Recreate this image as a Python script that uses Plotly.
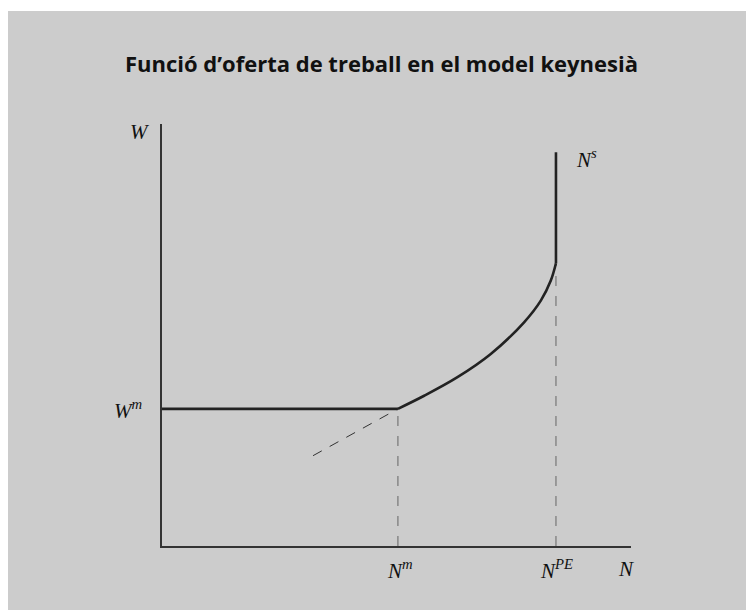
import plotly.graph_objects as go

# Data (axis units 0-100)
N_m = 50.3
N_PE = 84.0
W_m = 32.5
W_top = 93.3

flat_N = [0, N_m]
flat_W = [W_m, W_m]
curve_N = [50.3, 55.9, 63.0, 70.1, 77.2, 80.8, 82.9, 84.0]
curve_W = [32.5, 35.6, 40.0, 45.5, 53.0, 58.2, 62.9, 67.0]
vert_N = [N_PE, N_PE]
vert_W = [67.0, W_top]
ext_N = [32.2, N_m]
ext_W = [21.4, W_m]
drop_m_N = [N_m, N_m]
drop_m_W = [0, W_m]
drop_pe_N = [N_PE, N_PE]
drop_pe_W = [0, 67.0]

title_text = "<b>Funció d’oferta de treball en el model keynesià</b>"

DARK = "#222222"
fig = go.Figure()

# dashed guides
fig.add_trace(go.Scatter(x=drop_m_N, y=drop_m_W, mode="lines",
                         line=dict(color="#777777", width=1.2, dash="10px,10px"), hoverinfo="skip"))
fig.add_trace(go.Scatter(x=drop_pe_N, y=drop_pe_W, mode="lines",
                         line=dict(color="#777777", width=1.2, dash="10px,10px"), hoverinfo="skip"))
fig.add_trace(go.Scatter(x=ext_N, y=ext_W, mode="lines",
                         line=dict(color="#333333", width=1, dash="10px,9px"), hoverinfo="skip"))

# supply curve
fig.add_trace(go.Scatter(x=flat_N, y=flat_W, mode="lines",
                         line=dict(color=DARK, width=2.6), hoverinfo="skip"))
fig.add_trace(go.Scatter(x=curve_N, y=curve_W, mode="lines",
                         line=dict(color=DARK, width=2.6, shape="spline"), hoverinfo="skip"))
fig.add_trace(go.Scatter(x=vert_N, y=vert_W, mode="lines",
                         line=dict(color=DARK, width=2.6), hoverinfo="skip"))

lab_font = dict(family="Liberation Serif", size=21, color="#111111")

def lab(text, x, y, xshift=0, yshift=0):
    fig.add_annotation(text=f"<i>{text}</i>", x=x, y=y, xref="x", yref="y",
                       showarrow=False, font=lab_font, xshift=xshift, yshift=yshift,
                       xanchor="center", yanchor="middle")

lab("W", 0, 100, xshift=-22, yshift=-8)
lab("W<sup>m</sup>", 0, W_m, xshift=-34, yshift=-1)
lab("N<sup>m</sup>", N_m, 0, xshift=2, yshift=-23)
lab("N<sup>PE</sup>", N_PE, 0, xshift=1, yshift=-23)
lab("N", 100, 0, xshift=-5, yshift=-23)
lab("N<sup>s</sup>", N_PE, W_top, xshift=31, yshift=-6)

W_FIG, H_FIG = 747, 603
L, T, R_EDGE, B_EDGE = 154, 116, 623, 538
PW, PH = R_EDGE - L, B_EDGE - T

fig.update_layout(
    width=W_FIG, height=H_FIG,
    margin=dict(l=L, r=W_FIG - R_EDGE, t=T, b=H_FIG - B_EDGE, pad=0),
    paper_bgcolor="white",
    plot_bgcolor="rgba(0,0,0,0)",
    showlegend=False,
    title=dict(text=title_text, x=0.5, xanchor="center", y=1 - 56 / H_FIG, yanchor="middle",
               font=dict(family="Open Sans", size=22, color="#111111")),
    xaxis=dict(range=[0, 100], showline=True, linecolor="#333333", linewidth=1.6,
               showgrid=False, zeroline=False, showticklabels=False, ticks="", fixedrange=True),
    yaxis=dict(range=[0, 100], showline=True, linecolor="#333333", linewidth=1.6,
               showgrid=False, zeroline=False, showticklabels=False, ticks="", fixedrange=True),
    shapes=[dict(type="rect", xref="paper", yref="paper",
                 x0=(0 - L) / PW, x1=(W_FIG + 5 - L) / PW,
                 y0=(B_EDGE - H_FIG - 5) / PH, y1=(B_EDGE - 3) / PH,
                 fillcolor="#cccccc", line=dict(width=0), layer="below")],
)

fig.write_html("out.html")
